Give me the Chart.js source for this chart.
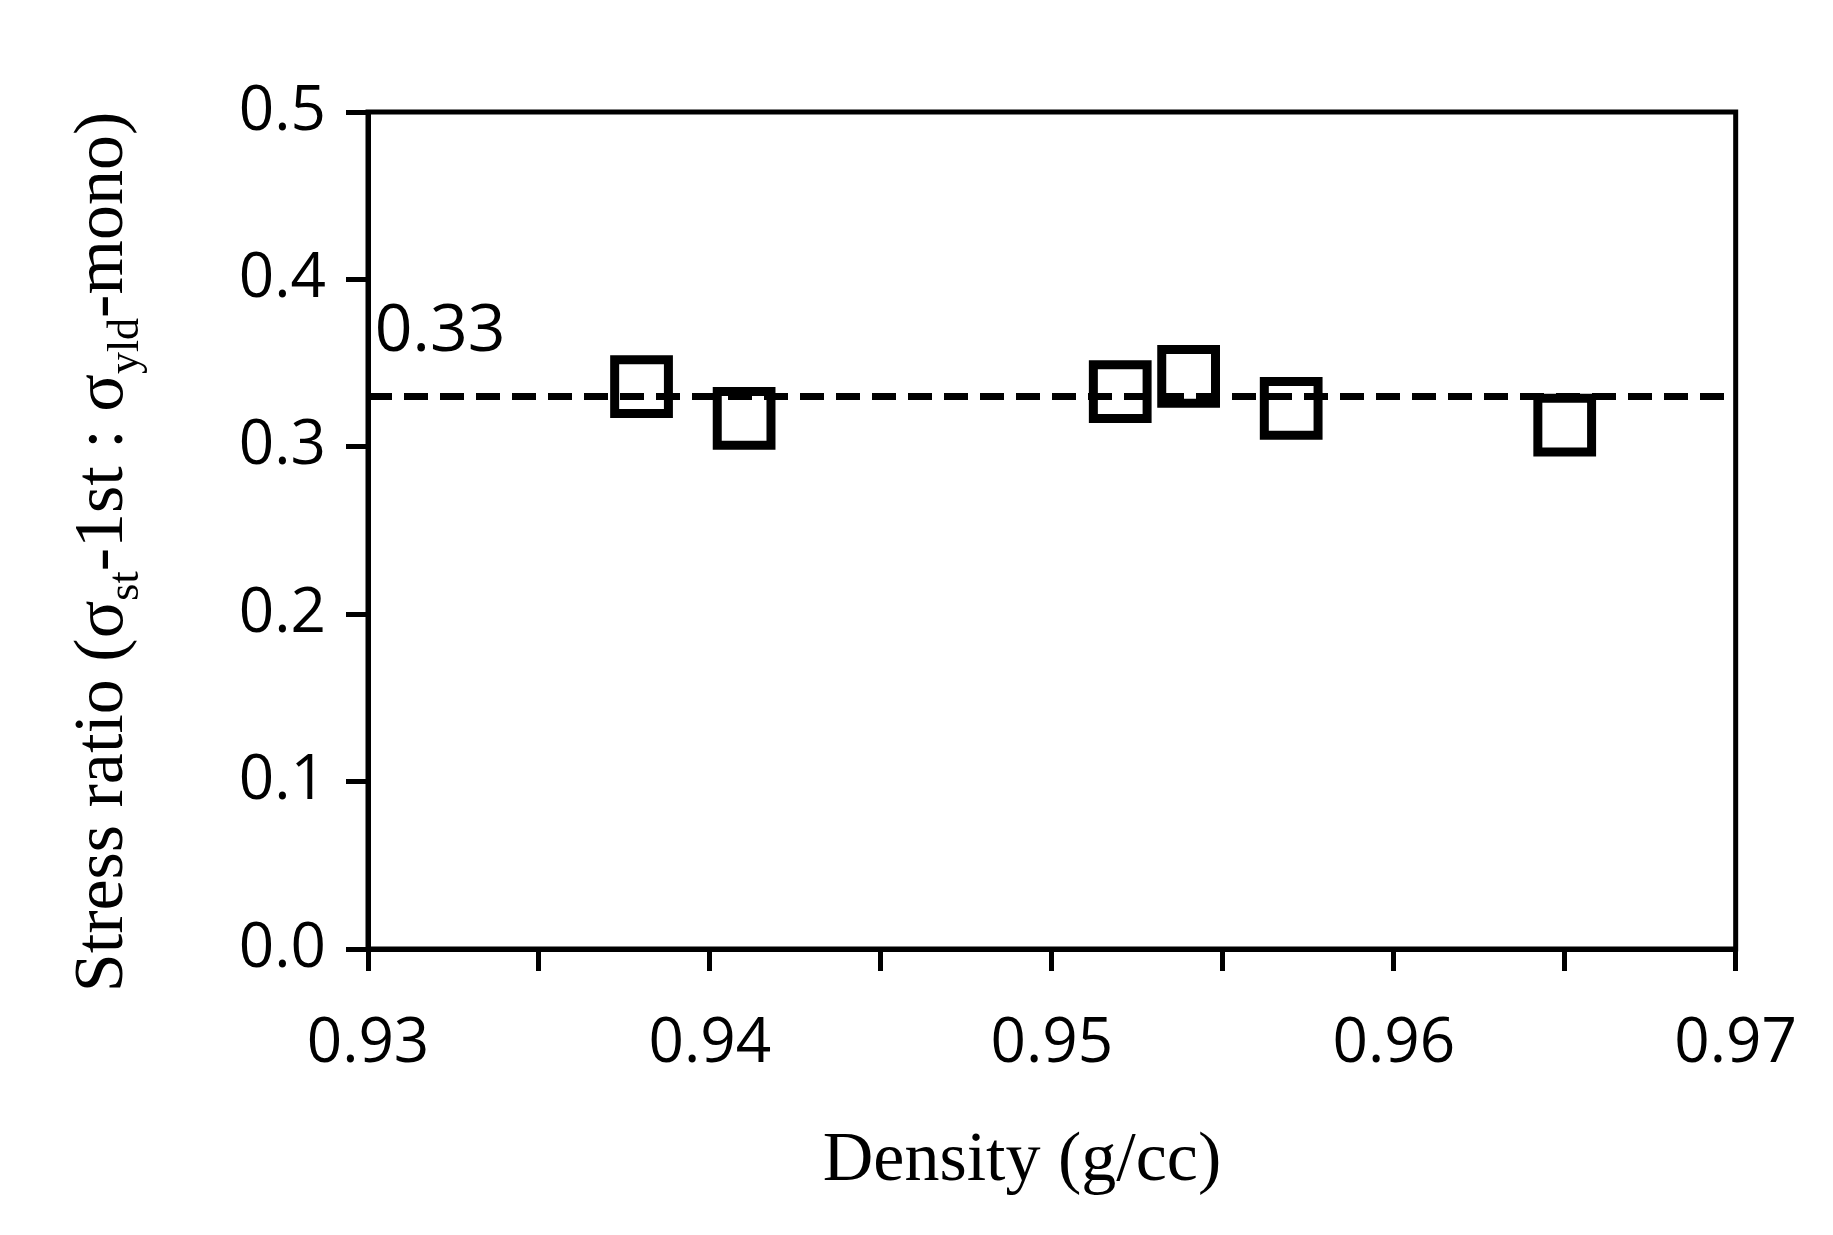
<!DOCTYPE html><html><head><meta charset="utf-8">
<script src="https://cdn.jsdelivr.net/npm/chart.js"></script>
<style>html,body{margin:0;padding:0;background:#fff}#w{width:1833px;height:1235px}</style></head><body>
<div id="w"><canvas id="c"></canvas></div>
<script>
const density=[0.938,0.941,0.952,0.954,0.957,0.965];
const ratio=[0.336,0.317,0.333,0.342,0.323,0.313];
const refX=[0.93,0.97];
const refY=[0.33,0.33];
const xTicks=[0.93,0.94,0.95,0.96,0.97];
const yTicks=[0.0,0.1,0.2,0.3,0.4,0.5];
const deco={id:'deco',afterDraw(ch){
 const ctx=ch.ctx,a=ch.chartArea;ctx.save();
 ctx.strokeStyle='#000';ctx.lineWidth=5;ctx.strokeRect(a.left,a.top,a.right-a.left,a.bottom-a.top);
 ctx.fillStyle='#000';
 ctx.font='66px "Open Sans", sans-serif';ctx.textAlign='left';ctx.textBaseline='alphabetic';
 ctx.fillText('0.33',ch.scales.x.getPixelForValue(0.9302),ch.scales.y.getPixelForValue(0.357));
 ctx.font='70px "Liberation Serif", serif';ctx.textAlign='center';
 ctx.fillText('Density (g/cc)',1022,1180);
 ctx.translate(122,552);ctx.rotate(-Math.PI/2);
 const parts=[['Stress ratio (σ',0],['st',1],['-1st : σ',0],['yld',1],['-mono)',0]];
 const big='70px "Liberation Serif", serif',small='44px "Liberation Serif", serif';
 let tot=0;parts.forEach(p=>{ctx.font=p[1]?small:big;tot+=ctx.measureText(p[0]).width;});
 let x=-tot/2;ctx.textAlign='left';
 parts.forEach(p=>{ctx.font=p[1]?small:big;ctx.fillText(p[0],x,p[1]?16:0);x+=ctx.measureText(p[0]).width;});
 ctx.restore();}};
new Chart(document.getElementById('c'),{type:'scatter',
 data:{datasets:[
  {data:refX.map((x,i)=>({x,y:refY[i]})),showLine:true,borderColor:'#000',borderWidth:7,borderDash:[24,12],pointRadius:0,order:2},
  {data:density.map((x,i)=>({x,y:ratio[i]})),pointStyle:'rect',pointRadius:38,pointBorderWidth:9,pointBorderColor:'#000',pointBackgroundColor:'rgba(255,255,255,0)',order:1}
 ]},
 options:{responsive:true,maintainAspectRatio:false,animation:false,
  layout:{padding:{top:112,right:80,left:0,bottom:0}},
  plugins:{legend:{display:false},tooltip:{enabled:false}},
  scales:{
   x:{type:'linear',min:0.93,max:0.97,afterFit(s){s.height=286;},
    afterBuildTicks(s){const t=[];for(let i=0;i<=8;i++)t.push({value:+(0.93+i*0.005).toFixed(3)});s.ticks=t;},
    ticks:{autoSkip:false,maxRotation:0,padding:36,color:'#000',font:{size:62,family:'"Open Sans", sans-serif'},
     callback(v){const r=Math.round(v*1000);return r%10===0?(r/1000).toFixed(2):'';}},
    grid:{drawOnChartArea:false,color:'#000',lineWidth:5,tickLength:22},border:{color:'#000',width:5}},
   y:{min:0,max:0.5,afterFit(s){s.width=368;},
    afterBuildTicks(s){s.ticks=yTicks.map(v=>({value:v}));},
    ticks:{padding:20,color:'#000',font:{size:62,family:'"Open Sans", sans-serif'},callback:v=>v.toFixed(1)},
    grid:{drawOnChartArea:false,color:'#000',lineWidth:5,tickLength:22},border:{color:'#000',width:5}}
  }},plugins:[deco]});
</script></body></html>
